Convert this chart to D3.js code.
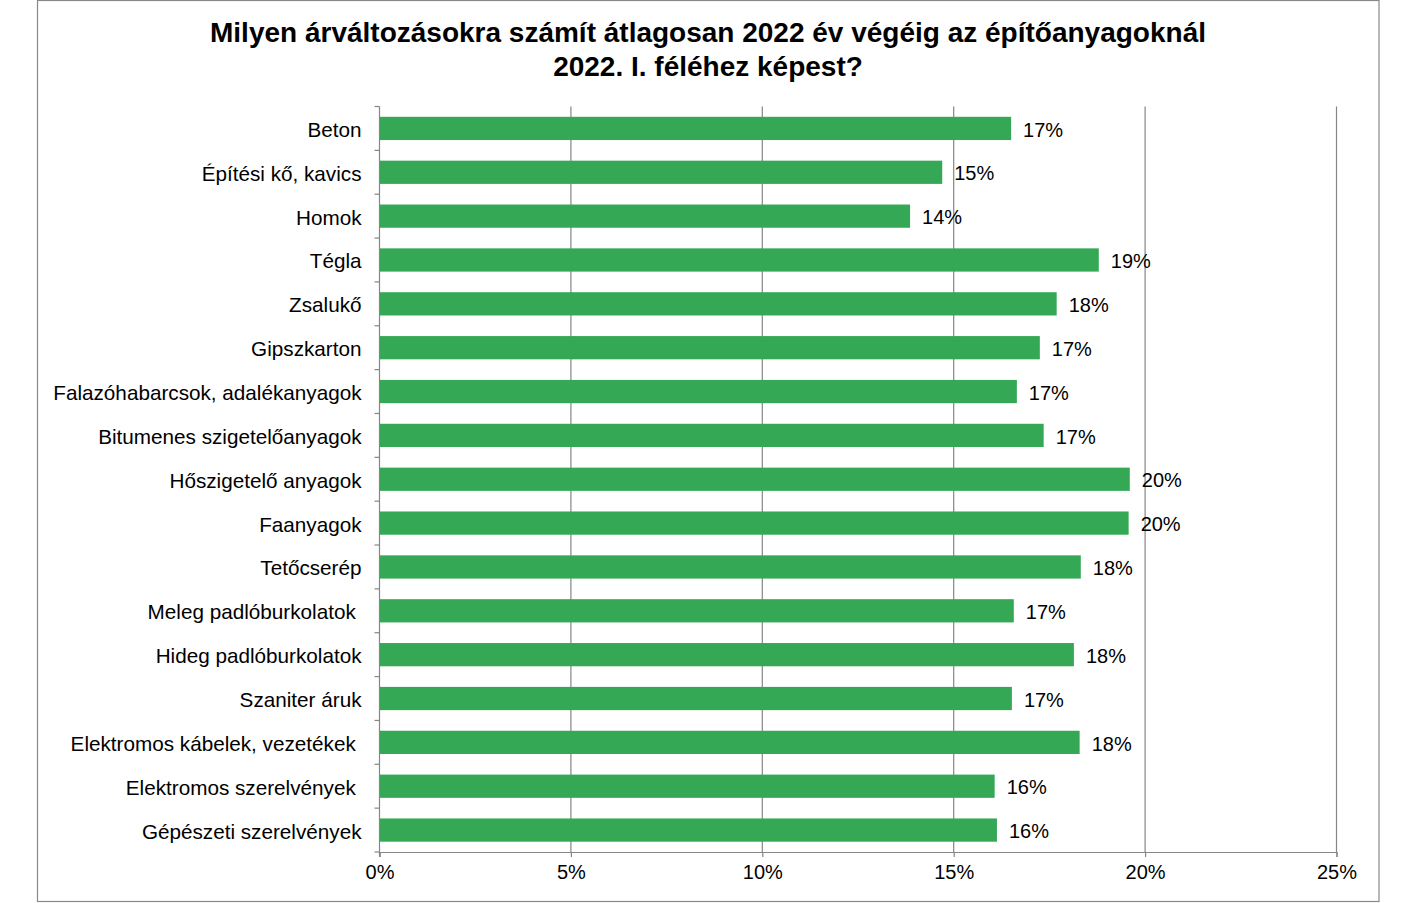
<!DOCTYPE html>
<html>
<head>
<meta charset="utf-8">
<script src="https://cdn.jsdelivr.net/npm/d3@7"></script>
<style>
  body { margin: 0; background: #fff; }
  text { font-family: "Liberation Sans", Arial, sans-serif; fill: #000; }
</style>
</head>
<body>
<div id="container"></div>
<script>
let w = 1416;
let h = 903;

let titleLines = [
  "Milyen árváltozásokra számít átlagosan 2022 év végéig az építőanyagoknál",
  "2022. I. féléhez képest?"
];

let categories = [
  "Beton", "Építési kő, kavics", "Homok", "Tégla", "Zsalukő", "Gipszkarton",
  "Falazóhabarcsok, adalékanyagok", "Bitumenes szigetelőanyagok",
  "Hőszigetelő anyagok", "Faanyagok", "Tetőcserép", "Meleg padlóburkolatok ",
  "Hideg padlóburkolatok", "Szaniter áruk", "Elektromos kábelek, vezetékek ",
  "Elektromos szerelvények ", "Gépészeti szerelvények"
];

let values = [
  0.165, 0.147, 0.1386, 0.1879, 0.1769, 0.1725, 0.1665, 0.1735,
  0.196, 0.1957, 0.1832, 0.1657, 0.1814, 0.1652, 0.1829, 0.1607, 0.1613
];

let valueLabels = [
  "17%", "15%", "14%", "19%", "18%", "17%", "17%", "17%",
  "20%", "20%", "18%", "17%", "18%", "17%", "18%", "16%", "16%"
];

let xTicks = [0, 0.05, 0.10, 0.15, 0.20, 0.25];

let plotLeft = 379.5;
let plotRight = 1336.5;
let plotTop = 106.5;
let plotBottom = 852;

let viz = d3.select("#container")
  .append("svg")
  .attr("width", w)
  .attr("height", h);

// chart frame
viz.append("rect")
  .attr("x", 37.5).attr("y", 0.5)
  .attr("width", 1341.5).attr("height", 901)
  .attr("fill", "none")
  .attr("stroke", "#898989")
  .attr("stroke-width", 1.2);

viz.selectAll(".title")
  .data(titleLines)
  .enter().append("text")
  .attr("class", "title")
  .attr("x", 708)
  .attr("y", function (d, i) { return 42 + i * 34; })
  .attr("text-anchor", "middle")
  .style("font-size", "28px")
  .style("font-weight", "bold")
  .text(function (d) { return d; });

let xScale = d3.scaleLinear().domain([0, 0.25]).range([plotLeft, plotRight]);
let yScale = d3.scaleBand().domain(categories).range([plotTop, plotBottom]).paddingInner(0.47).paddingOuter(0.235);

// vertical gridlines
viz.append("g")
  .selectAll("line")
  .data(xTicks.slice(1))
  .enter().append("line")
  .attr("x1", function (d) { return xScale(d); })
  .attr("x2", function (d) { return xScale(d); })
  .attr("y1", plotTop)
  .attr("y2", plotBottom)
  .attr("stroke", "#868686")
  .attr("stroke-width", 1.2);

// bars
viz.append("g")
  .selectAll("rect")
  .data(values)
  .enter().append("rect")
  .attr("x", xScale(0))
  .attr("y", function (d, i) { return yScale(categories[i]); })
  .attr("width", function (d) { return xScale(d) - xScale(0); })
  .attr("height", yScale.bandwidth())
  .attr("fill", "#35a855");

// value labels
viz.append("g")
  .selectAll("text")
  .data(values)
  .enter().append("text")
  .attr("x", function (d) { return xScale(d) + 12; })
  .attr("y", function (d, i) { return yScale(categories[i]) + yScale.bandwidth() / 2 + 1; })
  .attr("dy", "0.36em")
  .style("font-size", "20px")
  .text(function (d, i) { return valueLabels[i]; });

// x axis
let xAxis = d3.axisBottom(xScale)
  .tickValues(xTicks)
  .tickFormat(d3.format(".0%"))
  .tickSize(5)
  .tickPadding(8);
let xAxisGroup = viz.append("g")
  .attr("transform", "translate(0," + plotBottom + ")")
  .call(xAxis);

// y axis with ticks between categories
let step = yScale.step();
let boundaries = d3.range(categories.length + 1).map(function (i) { return plotTop + i * step; });
let yAxisGroup = viz.append("g");
yAxisGroup.append("line")
  .attr("x1", plotLeft).attr("x2", plotLeft)
  .attr("y1", plotTop).attr("y2", plotBottom + 5);
yAxisGroup.selectAll(".ytick")
  .data(boundaries)
  .enter().append("line")
  .attr("class", "ytick")
  .attr("x1", plotLeft - 5).attr("x2", plotLeft)
  .attr("y1", function (d) { return d; })
  .attr("y2", function (d) { return d; });
yAxisGroup.selectAll("text")
  .data(categories)
  .enter().append("text")
  .attr("x", plotLeft - 18)
  .attr("y", function (d) { return yScale(d) + yScale.bandwidth() / 2 + 1; })
  .attr("dy", "0.36em")
  .attr("text-anchor", "end")
  .style("font-size", "20.7px")
  .style("white-space", "pre")
  .text(function (d) { return d; });

yAxisGroup.selectAll("line").attr("stroke", "#868686").attr("stroke-width", 1.2);
xAxisGroup.select(".domain").attr("stroke", "#868686").attr("stroke-width", 1.2);
xAxisGroup.selectAll(".tick line").attr("stroke", "#868686").attr("stroke-width", 1.2);
xAxisGroup.selectAll("text")
  .style("font-size", "20px")
  .style("font-family", "'Liberation Sans', Arial, sans-serif")
  .attr("fill", "#000");
</script>
</body>
</html>
